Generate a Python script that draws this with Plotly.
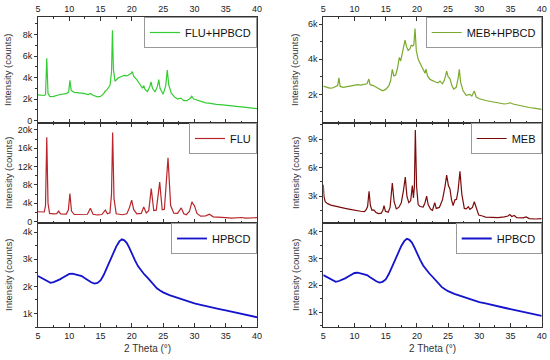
import plotly.graph_objects as go

# ---------------- data (2 theta in degrees, intensity in counts) ----------------
flu_hp_x = [5.0, 5.5, 6.0, 6.2, 6.4, 6.6, 6.9, 7.5, 8.5, 9.5, 9.9, 10.1, 10.3, 10.8, 11.5, 12.3, 13.0, 13.4,
            13.8, 14.5, 15.0, 15.5, 15.7, 16.0, 16.5, 16.75, 16.9, 17.05, 17.3, 17.8, 18.3, 18.8, 19.2, 19.6,
            19.9, 20.07, 20.3, 20.8, 21.3, 21.7, 21.9, 22.1, 22.5, 22.9, 23.06, 23.3, 23.7, 24.1, 24.3, 24.5,
            25.0, 25.4, 25.66, 25.9, 26.3, 26.8, 27.3, 27.85, 28.3, 28.8, 29.3, 29.57, 29.9, 30.4, 31.0, 31.8,
            32.3, 32.8, 33.5, 34.5, 35.5, 36.5, 37.5, 38.5, 39.3, 40.0]
flu_hp_y = [2380, 2350, 2330, 2400, 5800, 2500, 2220, 2250, 2420, 2500, 2650, 3750, 2800, 2620, 2600, 2530, 2420, 2520,
            2350, 2200, 2250, 2500, 2700, 2850, 3250, 4500, 8400, 4800, 3650, 3950, 4100, 4200, 4150, 4250,
            4400, 4550, 4100, 3800, 3300, 3000, 3250, 2900, 2700, 3200, 3600, 3000, 2650, 3200, 3800, 3000,
            2450, 3200, 4700, 3300, 2550, 2200, 2000, 2080, 1850, 1850, 2050, 2250, 2000, 1900, 1750, 1650,
            1620, 1560, 1500, 1450, 1400, 1350, 1300, 1200, 1150, 1100]

flu_x = [5.0, 5.6, 6.0, 6.2, 6.4, 6.6, 6.85, 7.5, 8.0, 8.3, 8.6, 9.5, 9.85, 10.1, 10.35, 10.8, 12.0, 12.9, 13.37,
         13.8, 14.5, 15.2, 15.76, 16.1, 16.5, 16.75, 16.93, 17.15, 17.5, 18.5, 19.2, 19.6, 19.97, 20.3, 20.8,
         21.5, 21.9, 22.3, 22.7, 23.1, 23.5, 23.9, 24.45, 24.85, 25.2, 25.78, 26.2, 26.7, 27.3, 27.9, 28.3, 28.7,
         29.2, 29.6, 29.85, 30.0, 30.4, 31.0, 31.8, 32.4, 33.0, 34.0, 34.4, 35.0, 36.0, 36.5, 37.5, 38.2, 39.0, 40.0]
flu_y = [2150, 2050, 2100, 3500, 18400, 4000, 1800, 1700, 1750, 2300, 1700, 1650, 2500, 6100, 2300, 1550, 1500, 1600, 2900,
         1600, 1450, 1550, 2500, 1700, 1900, 6000, 19400, 5000, 1700, 1500, 1700, 3000, 4700, 2600, 1700,
         1800, 3200, 1900, 2400, 7200, 2400, 2500, 8600, 2600, 2700, 13900, 3500, 1850, 1800, 3000, 1700, 1500,
         2200, 4300, 3700, 3500, 1800, 1200, 1250, 1600, 1050, 900, 1000, 850, 780, 800, 900, 750, 800, 850]

hpbcd_x = [5.0, 5.5, 6.0, 6.5, 7.0, 7.5, 8.0, 8.5, 9.0, 9.5, 10.0, 10.5, 11.0, 11.5, 12.0, 12.5, 13.0, 13.5, 14.0,
           14.5, 15.0, 15.5, 16.0, 16.5, 17.0, 17.5, 18.0, 18.4, 18.8, 19.2, 19.6, 20.0, 20.5, 21.0, 21.5, 22.0,
           22.5, 23.0, 23.5, 24.0, 24.5, 25.0, 26.0, 27.0, 28.0, 29.0, 30.0, 31.0, 32.0, 33.0, 34.0, 35.0, 36.0,
           37.0, 38.0, 39.0, 40.0]
hpbcd_y = [2380, 2320, 2260, 2180, 2130, 2160, 2200, 2260, 2330, 2400, 2460, 2470, 2440, 2430, 2380, 2300, 2210, 2150, 2100,
           2130, 2220, 2420, 2680, 2950, 3220, 3470, 3660, 3740, 3700, 3600, 3420, 3200, 2960, 2740, 2570, 2440,
           2320, 2190, 2080, 1930, 1850, 1780, 1680, 1600, 1520, 1430, 1370, 1320, 1260, 1210, 1160, 1110, 1060,
           1010, 960, 920, 860]

meb_hp_x = [5.0, 5.5, 6.0, 6.5, 7.0, 7.3, 7.5, 7.7, 8.2, 9.0, 10.0, 10.5, 11.0, 11.6, 12.0, 12.3, 12.5, 13.0, 13.5,
            14.0, 14.5, 15.0, 15.5, 15.8, 16.06, 16.3, 16.6, 16.9, 17.18, 17.4, 17.8, 18.1, 18.35, 18.6, 18.9,
            19.1, 19.3, 19.5, 19.7, 19.9, 20.2, 20.6, 21.0, 21.3, 21.45, 21.7, 22.1, 22.6, 23.0, 23.4, 23.7, 24.1,
            24.4, 24.77, 25.0, 25.3, 25.6, 25.9, 26.3, 26.6, 26.8, 27.0, 27.4, 27.9, 28.5, 28.8, 29.2, 29.5, 30.0,
            31.0, 32.0, 33.0, 34.0, 34.6, 35.0, 35.4, 36.0, 37.0, 38.0, 39.0, 40.0]
meb_hp_y = [2470, 2400, 2350, 2360, 2420, 2500, 2940, 2450, 2400, 2450, 2500, 2550, 2520, 2550, 2600, 2870, 2550, 2500, 2400,
            2280, 2200, 2280, 2480, 2800, 3420, 3050, 3100, 3500, 4100, 3900, 4500, 5080, 4700, 4500, 4600,
            4800, 4750, 4800, 5750, 4500, 4000, 3700, 3450, 3200, 3440, 3050, 2850, 2750, 2700, 2650, 2750, 2600,
            2800, 3320, 3000, 2900, 2500, 2300, 2400, 2900, 3420, 2700, 2200, 1950, 2000, 1900, 2190, 1850, 1750,
            1650, 1580, 1500, 1450, 1480, 1520, 1450, 1400, 1350, 1250, 1200, 1150]

meb_x = [5.0, 5.1, 5.3, 5.7, 6.2, 6.8, 7.3, 7.5, 7.8, 8.5, 9.3, 10.3, 11.0, 11.6, 11.9, 12.1, 12.33, 12.55, 12.8,
         13.1, 13.4, 13.8, 14.3, 14.55, 14.73, 14.95, 15.4, 15.7, 16.06, 16.35, 16.7, 17.1, 17.5, 17.85, 18.14,
         18.4, 18.7, 19.0, 19.27, 19.45, 19.6, 19.75, 19.95, 20.2, 20.5, 21.0, 21.3, 21.56, 21.8, 22.2, 22.5,
         22.86, 23.1, 23.6, 24.1, 24.5, 24.77, 25.05, 25.3, 25.55, 25.8, 26.1, 26.35, 26.6, 26.9, 27.2, 27.6,
         27.9, 28.24, 28.5, 28.9, 29.2, 29.5, 29.9, 30.5, 31.0, 32.0, 33.0, 34.0, 34.6, 34.9, 35.2, 35.6, 36.0,
         37.0, 37.5, 38.0, 39.0, 40.0]
meb_y = [4200, 3000, 2400, 2200, 2050, 1950, 1850, 1880, 1780, 1700, 1600, 1450, 1400, 1350, 1600, 1900, 3500, 2000, 1500,
         1550, 1300, 1150, 1200, 1500, 2000, 1400, 1300, 1800, 4370, 2400, 1650, 1800, 2300, 3600, 5000,
         3000, 2300, 2500, 4100, 2800, 4000, 9950, 4000, 2100, 1900, 1850, 2300, 3000, 2100, 1600, 1500,
         2300, 1700, 1800, 2600, 4000, 5200, 4100, 3750, 2600, 2000, 2600, 2650, 3600, 5600, 3200, 1700,
         1650, 1870, 1600, 1800, 2400, 1700, 1000, 900, 780, 750, 730, 800, 900, 1050, 850, 950, 720,
         700, 800, 620, 580, 620]

series_names = ["FLU+HPBCD", "FLU", "HPBCD", "MEB+HPBCD", "MEB", "HPBCD"]

# y tick values / labels per panel
ytick_l1 = [0, 2000, 4000, 6000, 8000]
ylab_l1 = ["0", "2k", "4k", "6k", "8k"]
ytick_l2 = [0, 4000, 8000, 12000, 16000, 20000]
ylab_l2 = ["0", "4k", "8k", "12k", "16k", "20k"]
ytick_l3 = [1000, 2000, 3000, 4000]
ylab_l3 = ["1k", "2k", "3k", "4k"]
ytick_r1 = [2000, 4000, 6000]
ylab_r1 = ["2k", "4k", "6k"]
ytick_r2 = [3000, 6000, 9000]
ylab_r2 = ["3k", "6k", "9k"]
ytick_r3 = [1000, 2000, 3000, 4000]
ylab_r3 = ["1k", "2k", "3k", "4k"]
xtick_vals = [5, 10, 15, 20, 25, 30, 35, 40]

# ---------------- figure ----------------
W, H = 550, 360
FONT = "Liberation Sans, Arial, sans-serif"

colors = ["#33cc33", "#b8262b", "#1414cc", "#7aaa2c", "#7a0c0c", "#1414cc"]

xs = [flu_hp_x, flu_x, hpbcd_x, meb_hp_x, meb_x, hpbcd_x]
ys = [flu_hp_y, flu_y, hpbcd_y, meb_hp_y, meb_y, hpbcd_y]

# panel pixel boxes: (left, right, top, bottom)
col_lr = [(38, 257), (323.3, 541.7)]
row_tb = [(17, 123), (123, 223), (223, 327)]
yranges = [[-230, 9630], [-300, 21500], [500, 4340], [370, 6400], [160, 10700], [440, 4330]]
yticks = [(ytick_l1, ylab_l1, 1000), (ytick_l2, ylab_l2, 2000), (ytick_l3, ylab_l3, 500),
          (ytick_r1, ylab_r1, 1000), (ytick_r2, ylab_r2, 1500), (ytick_r3, ylab_r3, 500)]

fig = go.Figure()
layout = dict(width=W, height=H, margin=dict(l=0, r=0, t=0, b=0, autoexpand=False),
              paper_bgcolor="white", plot_bgcolor="white", showlegend=True,
              font=dict(family=FONT, size=9, color="#222"))
annotations = []

for i in range(6):
    c, r = divmod(i, 3)
    L, R = col_lr[c]
    T, B = row_tb[r]
    xd = [L / W, R / W]
    yd = [1 - B / H, 1 - T / H]
    n = i + 1
    xa = "x" if n == 1 else f"x{n}"
    ya = "y" if n == 1 else f"y{n}"
    lg = "legend" if n == 1 else f"legend{n}"
    fig.add_trace(go.Scatter(x=xs[i], y=ys[i], mode="lines", name=series_names[i],
                             line=dict(color=colors[i], width=1.8 if i in (2, 5) else 1.2),
                             xaxis=xa, yaxis=ya, legend=lg))
    xkey = "xaxis" if n == 1 else f"xaxis{n}"
    ykey = "yaxis" if n == 1 else f"yaxis{n}"
    xax = dict(domain=xd, anchor=ya, range=[5, 40], tickvals=xtick_vals, automargin=False,
               ticks="inside", ticklen=4, tickcolor="#333", linecolor="#333", linewidth=1,
               showgrid=False, zeroline=False,
               minor=dict(ticks="inside", ticklen=2, dtick=2.5, tick0=5, tickcolor="#333"),
               tickfont=dict(size=9, color="#222"))
    if r == 0:
        xax.update(side="top", mirror="allticks", showticklabels=True)
    elif r == 1:
        xax.update(mirror="allticks", showticklabels=False)
    else:
        xax.update(mirror=True, showticklabels=True)
    tv, tt, mdt = yticks[i]
    yax = dict(domain=yd, anchor=xa, range=yranges[i], tickmode="array", tickvals=tv, ticktext=tt,
               ticks="outside", ticklen=3, tickcolor="#333", linecolor="#333", linewidth=1,
               mirror=True, showgrid=False, zeroline=False, automargin=False,
               minor=dict(ticks="outside", ticklen=2, dtick=mdt, tick0=0, tickcolor="#333"),
               tickfont=dict(size=9, color="#222"))
    layout[xkey] = xax
    layout[ykey] = yax
    layout[lg] = dict(x=R / W, y=1 - T / H, xanchor="right", yanchor="top",
                      bgcolor="white", bordercolor="#999", borderwidth=1,
                      font=dict(family=FONT, size=11, color="#111"), itemwidth=30,
                      tracegroupgap=0)
    # y-axis title
    annotations.append(dict(text="Intensity (counts)", xref="paper", yref="paper",
                            x=(8 if c == 0 else 295) / W, y=1 - (T + B) / 2 / H,
                            textangle=-90, showarrow=False, xanchor="center", yanchor="middle",
                            font=dict(family=FONT, size=9.5, color="#333")))
    if r == 2:
        annotations.append(dict(text="2 Theta (°)", xref="paper", yref="paper",
                                x=(L + R) / 2 / W, y=1 - 348 / H, showarrow=False,
                                xanchor="center", yanchor="middle",
                                font=dict(family=FONT, size=10, color="#333")))

layout["annotations"] = annotations
fig.update_layout(**layout)
fig.write_html("out.html", config={"displayModeBar": False},
               post_script="document.body.style.margin='0';document.body.style.padding='0';")
